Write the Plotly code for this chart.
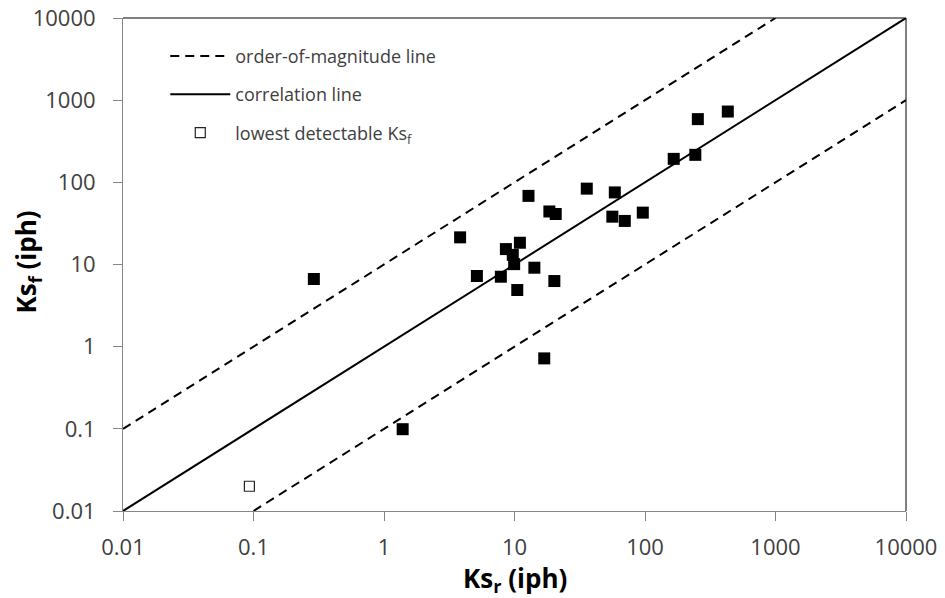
import plotly.graph_objects as go

# Measured points (Ks_r, Ks_f) in iph
ksr = [0.29, 1.39, 3.83, 5.15, 7.86, 8.59, 11.0, 9.7, 9.94, 14.2, 20.2, 10.5, 16.9,
       12.8, 18.5, 20.7, 35.8, 58.7, 56.2, 70.0, 96.2, 166, 243, 254, 431]
ksf = [6.66, 0.099, 21.4, 7.24, 7.1, 15.4, 18.4, 13.1, 10.1, 9.14, 6.29, 4.89, 0.72,
       68.4, 44.2, 41.2, 83.8, 75.4, 38.2, 33.9, 42.8, 193, 216, 588, 727]

# Lowest detectable Ks_f
low_x = [0.093]
low_y = [0.02]

# Reference lines
corr_x = [0.01, 10000]
corr_y = [0.01, 10000]
upper_x = [0.01, 1000]
upper_y = [0.1, 10000]
lower_x = [0.1, 10000]
lower_y = [0.01, 1000]

tick_vals = [0.01, 0.1, 1, 10, 100, 1000, 10000]
tick_text = ["0.01", "0.1", "1", "10", "100", "1000", "10000"]

FONT = "Open Sans"
TXT = "#404040"

fig = go.Figure()

fig.add_trace(go.Scatter(x=upper_x, y=upper_y, mode="lines",
                         line=dict(color="black", width=2, dash="9px,6px"),
                         name="order-of-magnitude line", legendgroup="a", showlegend=True))
fig.add_trace(go.Scatter(x=lower_x, y=lower_y, mode="lines",
                         line=dict(color="black", width=2, dash="9px,6px"),
                         name="order-of-magnitude line", legendgroup="a", showlegend=False))
fig.add_trace(go.Scatter(x=corr_x, y=corr_y, mode="lines",
                         line=dict(color="black", width=2),
                         name="correlation line", legendgroup="b"))
fig.add_trace(go.Scatter(x=low_x, y=low_y, mode="markers",
                         marker=dict(symbol="square-open", size=10, color="#222222",
                                     line=dict(width=1.2)),
                         name="lowest detectable Ks<sub>f</sub>", legendgroup="c"))
fig.add_trace(go.Scatter(x=ksr, y=ksf, mode="markers",
                         marker=dict(symbol="square", size=12, color="black"),
                         showlegend=False))

axis_common = dict(
    type="log", tickvals=tick_vals, ticktext=tick_text, automargin=False,
    showgrid=False, zeroline=False, showline=True, linecolor="#868686", linewidth=1,
    ticks="outside", ticklen=9, tickcolor="#868686", tickwidth=1,
    tickfont=dict(family=FONT, size=22, color=TXT), ticklabeloverflow="allow",
)

fig.update_xaxes(**axis_common, range=[-2, 4], ticklabelstandoff=8)
fig.update_yaxes(**axis_common, range=[-2, 4], ticklabelstandoff=13)

# axis titles
fig.add_annotation(text="<b>Ks<sub>r</sub> (iph)</b>", xref="paper", yref="paper",
                   x=0.5, y=-0.138, xanchor="center", yanchor="middle", showarrow=False,
                   font=dict(family=FONT, size=26, color="black"))
fig.add_annotation(text="<b>Ks<sub>f</sub> (iph)</b>", xref="paper", yref="paper",
                   x=-0.122, y=0.505, xanchor="center", yanchor="middle", showarrow=False,
                   textangle=-90, font=dict(family=FONT, size=26, color="black"))

# plot-area border on top and right
fig.add_shape(type="line", xref="paper", yref="paper", x0=0, x1=1, y0=1, y1=1,
              line=dict(color="black", width=1))
fig.add_shape(type="line", xref="paper", yref="paper", x0=1, x1=1, y0=0, y1=1,
              line=dict(color="black", width=1))

# page body adds an 8px offset, so the figure is sized to fit the window
fig.update_layout(
    width=937, height=590,
    margin=dict(l=115, r=39, t=10, b=87),
    plot_bgcolor="white", paper_bgcolor="white",
    legend=dict(x=0.054, y=0.96, xanchor="left", yanchor="top",
                font=dict(family=FONT, size=18, color=TXT),
                bgcolor="rgba(0,0,0,0)", tracegroupgap=12, traceorder="grouped",
                itemwidth=60),
)

fig.write_html("out.html")
